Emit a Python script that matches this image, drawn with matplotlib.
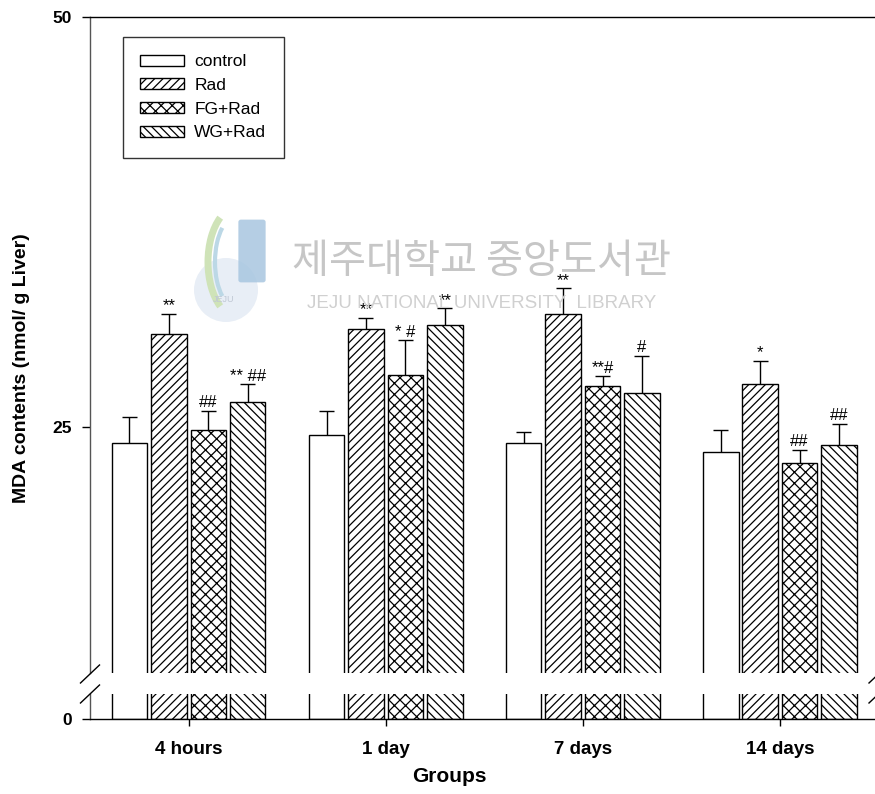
import numpy as np
import matplotlib.pyplot as plt
from matplotlib.lines import Line2D
from matplotlib.patches import Ellipse, FancyBboxPatch, Arc

plt.rcParams['font.family'] = ['Liberation Sans', 'DejaVu Sans']
plt.rcParams['hatch.linewidth'] = 0.9

groups = ["4 hours", "1 day", "7 days", "14 days"]
series = ["control", "Rad", "FG+Rad", "WG+Rad"]

control = [24.0, 24.5, 24.0, 23.5]
rad = [30.7, 31.0, 31.9, 27.6]
fg_rad = [24.8, 28.2, 27.5, 22.8]
wg_rad = [26.5, 31.2, 27.1, 23.9]

control_err = [1.6, 1.5, 0.7, 1.3]
rad_err = [1.2, 0.65, 1.55, 1.45]
fg_rad_err = [1.2, 2.1, 0.6, 0.8]
wg_rad_err = [1.1, 1.05, 2.25, 1.3]

control_marks = ["", "", "", ""]
rad_marks = ["**", "**", "**", "*"]
fg_rad_marks = ["##", "* #", "**#", "##"]
wg_rad_marks = ["** ##", "**", "#", "##"]

values = [control, rad, fg_rad, wg_rad]
errors = [control_err, rad_err, fg_rad_err, wg_rad_err]
marks = [control_marks, rad_marks, fg_rad_marks, wg_rad_marks]
hatches = ['', '////', 'xxx', '\\\\\\\\']

W, H = 875, 794
fig = plt.figure(figsize=(W / 100, H / 100), dpi=100)

left_px, right_px = 90, 878.5
up_top, up_bot = 17, 673
lo_top, lo_bot = 694, 719
ax_up = fig.add_axes([left_px / W, 1 - up_bot / H, (right_px - left_px) / W, (up_bot - up_top) / H])
ax_lo = fig.add_axes([left_px / W, 1 - lo_bot / H, (right_px - left_px) / W, (lo_bot - lo_top) / H])

up_lim = (10, 50)
px_per_unit = (up_bot - up_top) / (up_lim[1] - up_lim[0])
lo_lim = (0, (lo_bot - lo_top) / px_per_unit)

x = np.arange(len(groups))
width = 0.18
step = 0.2

# library watermark
fig.text(482 / W, 1 - 262 / H, "제주대학교 중앙도서관", fontsize=29,
         family=['Noto Sans CJK KR', 'DejaVu Sans'], color='#c6c6c6',
         ha='center', va='center', zorder=0)
fig.text(482 / W, 1 - 303 / H, "JEJU NATIONAL UNIVERSITY  LIBRARY", fontsize=13.5,
         color='#d0d0d0', ha='center', va='center', zorder=0)
fig.add_artist(Ellipse((226 / W, 1 - 290 / H), 64 / W, 64 / H, transform=fig.transFigure,
                       facecolor='#e8eef6', edgecolor='none', zorder=0))
fig.add_artist(Arc((238 / W, 1 - 262 / H), 60 / W, 110 / H, theta1=110, theta2=250,
                   transform=fig.transFigure, color='#cfe3b8', lw=5, zorder=0))
fig.add_artist(Arc((236 / W, 1 - 262 / H), 42 / W, 90 / H, theta1=110, theta2=250,
                   transform=fig.transFigure, color='#bcd8e6', lw=3, zorder=0))
fig.add_artist(FancyBboxPatch((241 / W, 1 - 280 / H), 22 / W, 58 / H,
                              boxstyle='round,pad=0.003', transform=fig.transFigure,
                              facecolor='#a8c6e0', edgecolor='none', zorder=0, alpha=0.85))
fig.text(224 / W, 1 - 299 / H, "JEJU", fontsize=6.5, color='#c0c8d4', ha='center', va='center')

bars = []
for ax in (ax_up, ax_lo):
    ax.patch.set_alpha(0)
    for i, (vals, h) in enumerate(zip(values, hatches)):
        b = ax.bar(x + (i - 1.5) * step, vals, width, color='white', edgecolor='black',
                   hatch=h, linewidth=1.0, label=series[i], zorder=2)
        if ax is ax_up:
            bars.append(b)
    ax.set_xlim(-0.5, 3.5)

ax_up.set_ylim(*up_lim)
ax_lo.set_ylim(*lo_lim)

cap_half = 7.5 / ((right_px - left_px) / 4)
for i, (vals, errs, mk) in enumerate(zip(values, errors, marks)):
    xs = x + (i - 1.5) * step
    tops = np.array(vals) + np.array(errs)
    ax_up.vlines(xs, vals, tops, color='black', lw=1.0, zorder=3)
    ax_up.hlines(tops, xs - cap_half, xs + cap_half, color='black', lw=1.0, zorder=3)
    for xi, t, m in zip(xs, tops, mk):
        if m:
            ax_up.annotate(m, (xi, t), xytext=(0, 2.5), textcoords='offset points',
                           ha='center', va='baseline', fontsize=12, zorder=4)

# spines and ticks
ax_up.spines['bottom'].set_visible(False)
ax_up.spines['right'].set_visible(False)
ax_lo.spines['top'].set_visible(False)
ax_lo.spines['right'].set_visible(False)
for ax in (ax_up, ax_lo):
    ax.spines['left'].set_color('#555555')
    ax.spines['left'].set_linewidth(1.0)
ax_up.spines['top'].set_linewidth(1.0)
ax_lo.spines['bottom'].set_linewidth(1.0)

ax_up.set_yticks([25, 50])
ax_lo.set_yticks([0])
ax_up.set_xticks([])
ax_lo.set_xticks(x)
ax_lo.set_xticklabels(groups)
for ax in (ax_up, ax_lo):
    ax.tick_params(axis='y', direction='out', length=6, width=1.0, pad=7, labelsize=12.5)
    for lab in ax.get_yticklabels():
        lab.set_fontweight('bold')
ax_lo.tick_params(axis='x', direction='out', length=5, width=1.0, pad=11, labelsize=13.5)
for lab in ax_lo.get_xticklabels():
    lab.set_fontweight('bold')

fig.text(449 / W, 1 - 777 / H, "Groups", fontsize=15, fontweight='bold', ha='center', va='center')
fig.text(22 / W, 1 - 368 / H, "MDA contents (nmol/ g Liver)", fontsize=14, fontweight='bold',
         rotation=90, ha='center', va='center')

# break marks
dx, dy = 9.5, 9
for xc in (left_px, right_px):
    for yc in (up_bot + 1, lo_top):
        fig.add_artist(Line2D([(xc - dx) / W, (xc + dx) / W], [1 - (yc + dy) / H, 1 - (yc - dy) / H],
                              transform=fig.transFigure, color='black', lw=1.0))

leg = ax_up.legend(handles=bars, labels=series, loc='upper left',
                   bbox_to_anchor=((123 - left_px) / (right_px - left_px), (up_bot - 37) / (up_bot - up_top)),
                   borderaxespad=0, frameon=True, fancybox=False, fontsize=12.5,
                   handlelength=2.5, handleheight=0.6, handletextpad=0.6, labelspacing=0.5,
                   borderpad=1.0)
leg.get_frame().set_edgecolor('black')
leg.get_frame().set_linewidth(1.0)

fig.savefig('out.png', dpi=100)
